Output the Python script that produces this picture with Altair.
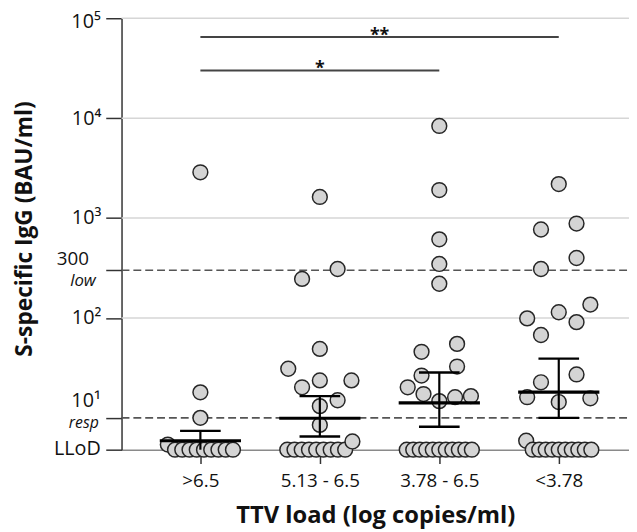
import math
import altair as alt
import pandas as pd

FONT = "Open Sans"
LLOD = 4.8
YMAX = 1e5

groups = [">6.5", "5.13 - 6.5", "3.78 - 6.5", "<3.78"]

# S-specific IgG values (BAU/ml), above the LLoD
g1_vals = [2870, 18, 10]
g2_vals = [1626, 309, 246, 49, 31, 23.7, 23.7, 20.2, 15, 13.1, 8.5]
g3_vals = [8360, 1906, 612, 347, 220, 55, 45.8, 32.6, 26.5, 20.2, 17.3, 14.7, 16.1, 16.5]
g4_vals = [2188, 881, 768, 398, 309, 99, 136, 114, 90.8, 67.5, 27.2, 22.7, 16.1, 15.7, 14.4]
# values at / just above the LLoD
g1_low = [5.4, LLOD, LLOD, LLOD, LLOD, LLOD, LLOD, LLOD, LLOD, LLOD]
g2_low = [LLOD, LLOD, LLOD, LLOD, LLOD, LLOD, LLOD, LLOD, LLOD, 5.8]
g3_low = [LLOD, LLOD, LLOD, LLOD, LLOD, LLOD, LLOD, LLOD, LLOD, LLOD, LLOD]
g4_low = [5.9, LLOD, LLOD, LLOD, LLOD, LLOD, LLOD, LLOD, LLOD, LLOD, LLOD]

# central value and error bars
gm_vals = [5.9, 9.9, 14.1, 18.1]
ci_lo = [LLOD, 6.5, 8.15, 10.0]
ci_hi = [7.4, 16.5, 28.4, 39.1]

# significance brackets
sig_from = [1, 1]
sig_to = [4, 3]
sig_y = [6.5e4, 3.0e4]
sig_text = ["**", "*"]

grid_vals = [1e2, 1e3, 1e4, 1e5]
ref_vals = [300, 10]
tick_vals = [LLOD, 10, 100, 300, 1e3, 1e4, 1e5]
axis_labels = ["", "", "10²", "", "10³", "10⁴", ""]
top_label = "10⁵"
extra_top = ["300", "10¹"]
extra_sub = ["low", "resp"]
llod_label = "LLoD"

W, H = 514, 437
XMIN = 0.34
XMAX = XMIN + W / 121.0
DIAM = 17.0
px_dec = H / (math.log10(YMAX) - math.log10(LLOD))
px_unit = W / (XMAX - XMIN)


def swarm(vals, low_vals):
    """Row-based scatter-dot arrangement (pixel offsets)."""
    out = []
    ys_px = [-math.log10(v) * px_dec for v in vals]
    order = sorted(range(len(vals)), key=lambda i: ys_px[i])
    rows = []
    for i in order:
        if rows and ys_px[i] - ys_px[rows[-1][0]] < 15:
            rows[-1].append(i)
        else:
            rows.append([i])
    placed = []
    for row in rows:
        row = sorted(row)
        k = len(row)
        if k == 1:
            cands = [[0], [18], [-18], [32], [-32]]
        elif k == 2:
            cands = [[18, -18], [-18, 18], [32, -32], [-32, 32]]
        elif k == 3:
            cands = [[-32, 32, 0]]
        else:
            cands = [[-32 + 64 * j / (k - 1) for j in range(k)]]
        chosen = cands[0]
        for c in cands:
            ok = all(
                math.hypot(c[j] - px, ys_px[row[j]] - py) >= 0.95 * DIAM
                for j in range(k)
                for (px, py) in placed
            )
            if ok:
                chosen = c
                break
        for j, i in enumerate(row):
            placed.append((chosen[j], ys_px[i]))
            out.append((vals[i], chosen[j]))
    k = len(low_vals)
    for j, v in enumerate(low_vals):
        out.append((v, -33 + 66 * j / (k - 1)))
    return out


rows = []
for gi, (vals, low) in enumerate(
    [(g1_vals, g1_low), (g2_vals, g2_low), (g3_vals, g3_low), (g4_vals, g4_low)], start=1
):
    for v, off in swarm(vals, low):
        rows.append({"g": gi, "v": v, "x": gi + off / px_unit})
pts = pd.DataFrame(rows)

xs = alt.Scale(domain=[XMIN, XMAX], nice=False, zero=False)
ys = alt.Scale(type="log", domain=[LLOD, YMAX], nice=False)

ylab_expr = ":".join(
    f"abs(datum.value-{v})<{v * 1e-6}?'{t}'" for v, t in zip(tick_vals, axis_labels)
) + ":''"
xlab_expr = "[" + ",".join(f"'{g}'" for g in groups) + "][datum.value-1]"

TXT = "#111111"

x_axis = alt.Axis(
    values=[1, 2, 3, 4], labelExpr=xlab_expr, grid=False,
    tickSize=14, tickWidth=1.5, tickColor="#333333",
    domainColor="#8a8a8a", domainWidth=1.5,
    labelFont=FONT, labelFontSize=19, labelColor=TXT, labelPadding=8,
    title="TTV load (log copies/ml)", titleFont=FONT, titleFontSize=24,
    titleFontWeight="bold", titleColor=TXT,
    titleY=67, titleBaseline="middle",
)
y_axis = alt.Axis(
    values=tick_vals, labelExpr=ylab_expr, grid=False,
    tickSize=16, tickWidth=1.5, tickColor="#333333",
    domainColor="#333333", domainWidth=1.5,
    labelFont=FONT, labelFontSize=20, labelColor=TXT, labelPadding=5,
    title="S-specific IgG (BAU/ml)", titleFont=FONT, titleFontSize=23,
    titleFontWeight="bold", titleColor=TXT,
    titleX=-98, titleY=213, titleBaseline="middle", titleAlign="center",
)


def X(field):
    return alt.X(field, scale=xs, axis=x_axis)


def Y(field):
    return alt.Y(field, scale=ys, axis=y_axis)


grid = alt.Chart(pd.DataFrame({"v": grid_vals})).mark_rule(
    color="#d6d6d6", strokeWidth=1.5
).encode(y=Y("v:Q"), x=alt.value(0), x2=alt.value(W))

refs = alt.Chart(pd.DataFrame({"v": ref_vals})).mark_rule(
    color="#555555", strokeWidth=1.6, strokeDash=[8, 4]
).encode(y=Y("v:Q"), x=alt.value(0), x2=alt.value(W))

points = alt.Chart(pts).mark_circle(
    size=225, color="#d4d4d4", stroke="#262626", strokeWidth=1.5, opacity=1
).encode(x=X("x:Q"), y=Y("v:Q"))

stats = pd.DataFrame({"g": [1, 2, 3, 4], "m": gm_vals, "lo": ci_lo, "hi": ci_hi})

mean_line = alt.Chart(stats).transform_calculate(
    l="datum.g - 0.34", r="datum.g + 0.34"
).mark_rule(color="black", strokeWidth=3.2).encode(
    x=X("l:Q"), x2="r:Q", y=Y("m:Q"),
)
whisk = alt.Chart(stats).mark_rule(color="black", strokeWidth=2.2).encode(
    x=X("g:Q"), y=Y("lo:Q"), y2="hi:Q",
)
cap_hi = alt.Chart(stats).transform_calculate(
    l="datum.g - 0.17", r="datum.g + 0.17"
).mark_rule(color="black", strokeWidth=2.4).encode(
    x=X("l:Q"), x2="r:Q", y=Y("hi:Q"),
)
cap_lo = alt.Chart(stats).transform_filter(f"datum.lo > {LLOD}").transform_calculate(
    l="datum.g - 0.17", r="datum.g + 0.17"
).mark_rule(color="black", strokeWidth=2.4).encode(
    x=X("l:Q"), x2="r:Q", y=Y("lo:Q"),
)

sig = pd.DataFrame({"a": sig_from, "b": sig_to, "v": sig_y, "t": sig_text})
sig_rules = alt.Chart(sig).mark_rule(color="#444444", strokeWidth=2).encode(
    x=X("a:Q"), x2="b:Q", y=Y("v:Q"),
)
sig_txt = alt.Chart(sig).transform_calculate(mid="(datum.a + datum.b) / 2").mark_text(
    font=FONT, fontSize=18, fontWeight="bold", baseline="alphabetic", dy=4, color=TXT
).encode(x=X("mid:Q"), y=Y("v:Q"), text="t:N")


def ylab(val, text, dy, xpx, size, style="normal", baseline="alphabetic"):
    return alt.Chart(pd.DataFrame({"v": [val], "t": [text]})).mark_text(
        align="right", baseline=baseline, dy=dy, fontSize=size, font=FONT,
        fontStyle=style, color=TXT,
    ).encode(x=alt.value(xpx), y=Y("v:Q"), text="t:N")


lab_layers = [
    ylab(YMAX, top_label, 4, -21, 20, baseline="middle"),
    ylab(ref_vals[0], extra_top[0], -5, -33, 19),
    ylab(ref_vals[1], extra_top[1], -11, -21, 20),
    ylab(ref_vals[0], extra_sub[0], 16, -26, 17, "italic"),
    ylab(ref_vals[1], extra_sub[1], 10, -23, 16, "italic"),
    ylab(LLOD, llod_label, 5, -21, 20),
]

chart = alt.layer(
    grid, refs, points, whisk, mean_line, cap_hi, cap_lo, sig_rules, sig_txt, *lab_layers
).properties(
    width=W, height=H,
    autosize=alt.AutoSizeParams(type="none"),
    padding={"left": 115, "top": 7, "right": 0, "bottom": 80},
    background="white",
).configure_view(stroke=None)

chart.save("out.html", embed_options={"renderer": "svg", "actions": False})
